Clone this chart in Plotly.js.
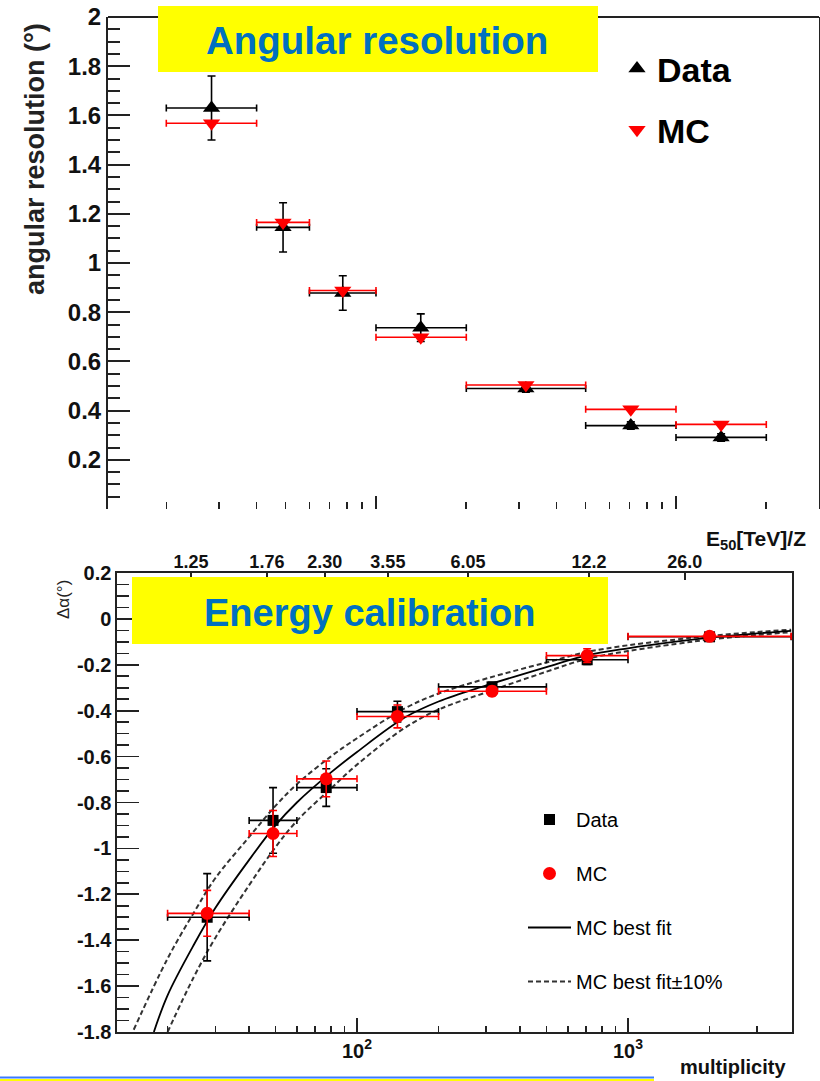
<!DOCTYPE html>
<html>
<head>
<meta charset="utf-8">
<script src="https://cdn.plot.ly/plotly-3.0.1.min.js"></script>
<style>html,body{margin:0;padding:0;background:#fff;}#chart{width:820px;height:1081px;}</style>
</head>
<body>
<div id="chart"></div>
<script>
// ---------- Top panel: angular resolution ----------
const topBinLo = [20, 40, 60, 100, 200, 500, 1000];
const topBinHi = [40, 60, 100, 200, 500, 1000, 2000];
const topX = [28.3, 49, 77.5, 141, 316, 707, 1414];
const topDataY = [1.63, 1.145, 0.878, 0.737, 0.49, 0.339, 0.291];
const topDataErr = [0.13, 0.10, 0.07, 0.056, 0.015, 0.015, 0.015];
const topMcY = [1.568, 1.165, 0.888, 0.698, 0.504, 0.405, 0.344];
const topYTickVals = [0.2, 0.4, 0.6, 0.8, 1, 1.2, 1.4, 1.6, 1.8, 2];
const topYTickText = ["0.2", "0.4", "0.6", "0.8", "1", "1.2", "1.4", "1.6", "1.8", "2"];

// ---------- Bottom panel: energy calibration ----------
const botBinLo = [20, 40, 60, 100, 200, 500, 1000];
const botBinHi = [40, 60, 100, 200, 500, 1000, 4000];
const botX = [28, 49, 77, 141, 315, 707, 2000];
const botDataY = [-1.30, -0.878, -0.735, -0.404, -0.296, -0.178, -0.078];
const botDataErr = [0.19, 0.143, 0.082, 0.045, 0.02, 0.02, 0.01];
const botMcY = [-1.283, -0.935, -0.697, -0.425, -0.315, -0.16, -0.076];
const botMcErr = [0.10, 0.10, 0.078, 0.05, 0.02, 0.03, 0.01];

const fitX = [17.8, 20, 25, 30, 40, 50, 60, 80, 100, 150, 200, 300, 500, 700, 1000, 1500, 2000, 3000, 4000];
const fitY = [-1.80, -1.64, -1.42, -1.26, -1.05, -0.90, -0.80, -0.67, -0.58, -0.43, -0.36, -0.29, -0.21, -0.16, -0.128, -0.099, -0.082, -0.063, -0.052];
const fitUpX = [15, 20, 25, 30, 40, 50, 60, 80, 100, 150, 200, 300, 500, 700, 1000, 1500, 2000, 3000, 4000];
const fitUpY = [-1.79, -1.48, -1.28, -1.13, -0.95, -0.815, -0.72, -0.60, -0.52, -0.39, -0.325, -0.26, -0.19, -0.145, -0.115, -0.09, -0.074, -0.057, -0.047];
const fitLoX = [20, 25, 30, 40, 50, 60, 80, 100, 150, 200, 300, 500, 700, 1000, 1500, 2000, 3000, 4000];
const fitLoY = [-1.80, -1.56, -1.39, -1.16, -0.995, -0.88, -0.74, -0.635, -0.475, -0.395, -0.32, -0.23, -0.175, -0.14, -0.109, -0.09, -0.07, -0.058];

const botYTickVals = [0.2, 0, -0.2, -0.4, -0.6, -0.8, -1, -1.2, -1.4, -1.6, -1.8];
const botYTickText = ["0.2", "0", "-0.2", "-0.4", "-0.6", "-0.8", "-1", "-1.2", "-1.4", "-1.6", "-1.8"];
const botXTickVals = [100, 1000];
const botXTickText = ["10<sup>2</sup>", "10<sup>3</sup>"];
const energyTickVals = [24.4, 46.5, 76, 130, 257, 718, 1620];
const energyTickText = ["1.25", "1.76", "2.30", "3.55", "6.05", "12.2", "26.0"];
const logMinor = [20, 30, 40, 50, 60, 70, 80, 90, 200, 300, 400, 500, 600, 700, 800, 900, 2000, 3000, 4000];

const FONT = "Liberation Sans, Arial, Helvetica, sans-serif";
const W = 820, H = 1081;
const px = v => v / W;
const py = v => 1 - v / H;

const plus = (hi, c) => hi.map((h, i) => h - c[i]);
const minus = (lo, c) => lo.map((l, i) => c[i] - l);

function errX(lo, hi, c, color) {
  return {type: 'data', symmetric: false, array: plus(hi, c), arrayminus: minus(lo, c),
          color: color, thickness: 1.6, width: 3.5};
}
function errY(e, color) {
  return {type: 'data', array: e, color: color, thickness: 1.6, width: 4};
}

const DASH = '5px,3px';

const traces = [
  {x: topX, y: topDataY, xaxis: 'x', yaxis: 'y', mode: 'markers', name: 'Data',
   legend: 'legend', legendgroup: 'td', legendrank: 1,
   marker: {symbol: 'triangle-up', size: 15, color: '#000'},
   error_x: errX(topBinLo, topBinHi, topX, '#000'), error_y: errY(topDataErr, '#000')},
  {x: topX, y: topMcY, xaxis: 'x', yaxis: 'y', mode: 'markers', name: 'MC',
   legend: 'legend', legendgroup: 'tm', legendrank: 2,
   marker: {symbol: 'triangle-down', size: 15, color: '#ff0000'},
   error_x: errX(topBinLo, topBinHi, topX, '#ff0000')},

  {x: fitUpX, y: fitUpY, xaxis: 'x2', yaxis: 'y2', mode: 'lines', name: 'MC best fit±10%',
   legend: 'legend2', legendgroup: 'bd', legendrank: 4,
   line: {color: '#333', width: 2, dash: DASH, shape: 'spline'}},
  {x: fitLoX, y: fitLoY, xaxis: 'x2', yaxis: 'y2', mode: 'lines', name: 'MC best fit±10%',
   legend: 'legend2', legendgroup: 'bd', showlegend: false,
   line: {color: '#333', width: 2, dash: DASH, shape: 'spline'}},
  {x: fitX, y: fitY, xaxis: 'x2', yaxis: 'y2', mode: 'lines', name: 'MC best fit',
   legend: 'legend2', legendgroup: 'bf', legendrank: 3,
   line: {color: '#000', width: 1.8, shape: 'spline'}},
  {x: botX, y: botDataY, xaxis: 'x2', yaxis: 'y2', mode: 'markers', name: 'Data',
   legend: 'legend2', legendgroup: 'ba', legendrank: 1,
   marker: {symbol: 'square', size: 11, color: '#000'},
   error_x: errX(botBinLo, botBinHi, botX, '#000'), error_y: errY(botDataErr, '#000')},
  {x: botX, y: botMcY, xaxis: 'x2', yaxis: 'y2', mode: 'markers', name: 'MC',
   legend: 'legend2', legendgroup: 'bm', legendrank: 2,
   marker: {symbol: 'circle', size: 13, color: '#ff0000'},
   error_x: errX(botBinLo, botBinHi, botX, '#ff0000'), error_y: errY(botMcErr, '#ff0000')},
  // empty trace so the top energy axis of the lower panel gets drawn
  {x: [null], y: [null], xaxis: 'x3', yaxis: 'y2', mode: 'markers', showlegend: false,
   hoverinfo: 'skip', marker: {opacity: 0}}
];

const axFontBig = {family: FONT, size: 24, color: '#111', weight: 700};
const axFontMid = {family: FONT, size: 20, color: '#111', weight: 700};

const layout = {
  width: W, height: H,
  margin: {l: 0, r: 0, t: 0, b: 0},
  paper_bgcolor: '#fff', plot_bgcolor: 'rgba(0,0,0,0)',
  font: {family: FONT, color: '#000'},
  xaxis: {
    domain: [px(108), px(819)], anchor: 'y', type: 'log', range: [1.1067, 3.4767],
    showline: false, showgrid: false, zeroline: false,
    tickmode: 'array', tickvals: [100, 1000], ticks: 'inside', ticklen: 13, tickwidth: 1.6, tickcolor: '#222',
    showticklabels: false,
    minor: {tickmode: 'array', tickvals: logMinor, ticks: 'inside', ticklen: 7, tickwidth: 1.6, tickcolor: '#222', showgrid: false}
  },
  yaxis: {
    domain: [py(509), py(17)], anchor: 'x', range: [0, 2],
    showline: true, linewidth: 2, linecolor: '#222', mirror: true,
    showgrid: false, zeroline: false,
    tickmode: 'array', tickvals: topYTickVals, ticktext: topYTickText,
    ticks: 'inside', ticklen: 22, tickwidth: 2, tickcolor: '#222',
    tickfont: axFontBig,
    minor: {dtick: 0.05, ticks: 'inside', ticklen: 12, tickwidth: 2, tickcolor: '#222', showgrid: false}
  },
  xaxis2: {
    domain: [px(117), px(792)], anchor: 'y2', type: 'log', range: [1.1144, 3.6052],
    showline: true, linewidth: 1.6, linecolor: '#222', mirror: true,
    showgrid: false, zeroline: false,
    tickmode: 'array', tickvals: botXTickVals, ticktext: botXTickText,
    ticks: 'inside', ticklen: 14, tickwidth: 1.6, tickcolor: '#222',
    tickfont: axFontMid,
    minor: {tickmode: 'array', tickvals: logMinor, ticks: 'inside', ticklen: 6, tickwidth: 1.6, tickcolor: '#222', showgrid: false}
  },
  xaxis3: {
    overlaying: 'x2', anchor: 'y2', side: 'top', type: 'log', range: [1.1144, 3.6052],
    showline: false, showgrid: false, zeroline: false,
    tickmode: 'array', tickvals: energyTickVals, ticktext: energyTickText,
    ticks: 'inside', ticklen: 7, tickwidth: 1.6, tickcolor: '#222',
    tickfont: {family: FONT, size: 18, color: '#111', weight: 700}
  },
  yaxis2: {
    domain: [py(1032), py(573)], anchor: 'x2', range: [-1.8, 0.2],
    showline: true, linewidth: 1.6, linecolor: '#222', mirror: true,
    showgrid: false, zeroline: false,
    tickmode: 'array', tickvals: botYTickVals, ticktext: botYTickText,
    ticks: 'inside', ticklen: 22, tickwidth: 1.6, tickcolor: '#222',
    tickfont: axFontMid,
    minor: {dtick: 0.05, ticks: 'inside', ticklen: 12, tickwidth: 1.6, tickcolor: '#222', showgrid: false}
  },
  legend: {
    x: px(617), y: py(40), xanchor: 'left', yanchor: 'top', xref: 'paper', yref: 'paper',
    bgcolor: 'rgba(0,0,0,0)', traceorder: 'grouped', tracegroupgap: 14,
    font: {family: FONT, size: 34, color: '#000', weight: 700}
  },
  legend2: {
    x: px(523), y: py(800), xanchor: 'left', yanchor: 'top', xref: 'paper', yref: 'paper',
    bgcolor: 'rgba(0,0,0,0)', traceorder: 'grouped', tracegroupgap: 25, itemwidth: 43,
    font: {family: FONT, size: 20, color: '#000'}
  },
  shapes: [
    {type: 'line', xref: 'paper', yref: 'paper', x0: px(108), x1: px(819), y0: py(17), y1: py(17),
     line: {color: '#222', width: 2}},
    {type: 'rect', xref: 'paper', yref: 'paper', x0: px(158), x1: px(598), y0: py(72), y1: py(6),
     fillcolor: '#ffff00', line: {width: 0}, layer: 'above'},
    {type: 'rect', xref: 'paper', yref: 'paper', x0: px(132), x1: px(608), y0: py(644), y1: py(577),
     fillcolor: '#ffff00', line: {width: 0}, layer: 'above'},
    {type: 'line', xref: 'paper', yref: 'paper', x0: 0, x1: px(654), y0: py(1077.5), y1: py(1077.5),
     line: {color: '#3b7bff', width: 2}},
    {type: 'rect', xref: 'paper', yref: 'paper', x0: 0, x1: px(654), y0: 0, y1: py(1079),
     fillcolor: '#ffff00', line: {width: 0}}
  ],
  annotations: [
    {text: 'Angular resolution', xref: 'paper', yref: 'paper', x: px(377), y: py(40),
     xanchor: 'center', yanchor: 'middle', showarrow: false,
     font: {family: FONT, size: 38.5, color: '#0070c0', weight: 700}},
    {text: 'Energy calibration', xref: 'paper', yref: 'paper', x: px(370), y: py(613),
     xanchor: 'center', yanchor: 'middle', showarrow: false,
     font: {family: FONT, size: 38, color: '#0070c0', weight: 700}},
    {text: 'angular resolution (°)', xref: 'paper', yref: 'paper', x: px(35), y: py(159),
     xanchor: 'center', yanchor: 'middle', textangle: -90, showarrow: false,
     font: {family: FONT, size: 27, color: '#222', weight: 700}},
    {text: 'Δα(°)', xref: 'paper', yref: 'paper', x: px(63), y: py(600),
     xanchor: 'center', yanchor: 'middle', textangle: -90, showarrow: false,
     font: {family: FONT, size: 17, color: '#222'}},
    {text: 'E<sub>50</sub>[TeV]/Z', xref: 'paper', yref: 'paper', x: px(756), y: py(540),
     xanchor: 'center', yanchor: 'middle', showarrow: false,
     font: {family: FONT, size: 21, color: '#111', weight: 700}},
    {text: 'multiplicity', xref: 'paper', yref: 'paper', x: px(733), y: py(1067),
     xanchor: 'center', yanchor: 'middle', showarrow: false,
     font: {family: FONT, size: 20, color: '#111', weight: 700}}
  ]
};

Plotly.newPlot('chart', traces, layout, {displayModeBar: false, staticPlot: true});
</script>
</body>
</html>
